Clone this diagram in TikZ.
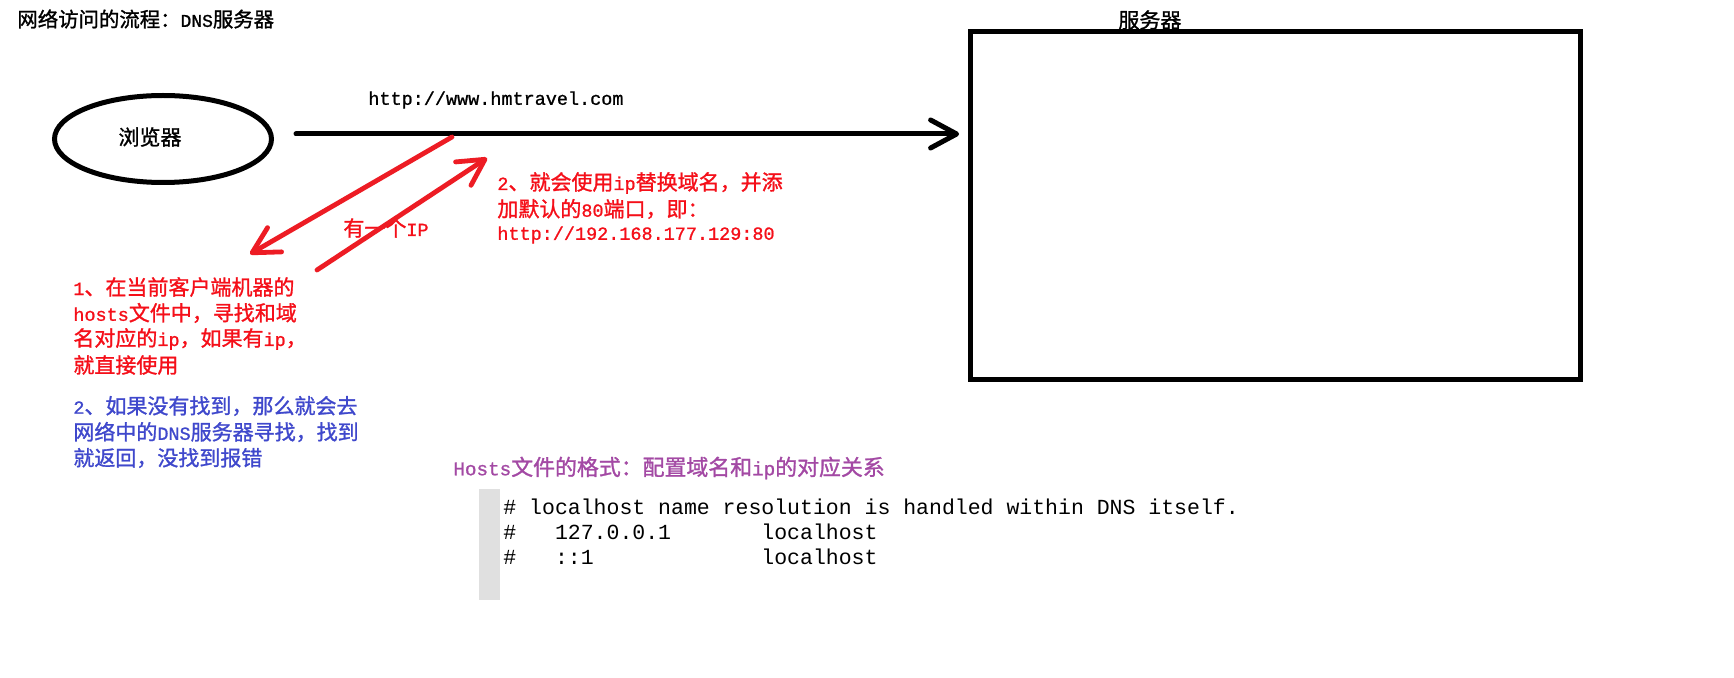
\documentclass[tikz,border=0pt]{standalone}
\usepackage{fontspec}
\setmainfont[FakeBold=1.2]{Noto Sans CJK SC}
\newfontfamily\latf[Scale=0.88,FakeBold=1]{Liberation Mono}
\newfontfamily\codef{Liberation Mono}
\newcommand\mylat[1]{{\latf #1}}
\newcommand\cgap[1]{\hspace*{#1\fontcharwd\font`0}}
\usetikzlibrary{arrows.meta,shapes.geometric}
\definecolor{tred}{RGB}{245,15,25}
\definecolor{ared}{RGB}{237,28,36}
\definecolor{tblue}{RGB}{63,72,204}
\definecolor{tpurp}{RGB}{163,73,164}
\definecolor{bargray}{RGB}{224,224,224}
\begin{document}
\begin{tikzpicture}[x=0.5pt,y=-0.5pt,
  txt/.style={inner sep=0pt, anchor=west, font=\fontsize{10.5pt}{13pt}\selectfont},
  codeline/.style={inner sep=0pt, anchor=west, font=\codef\fontsize{10.75pt}{12.5pt}\selectfont},
  barb/.style={-{Straight Barb[length=13pt,width=14pt,round]}, line cap=round},
  redarrow/.style={barb, draw=ared, line width=2.4pt},
  blackarrow/.style={barb, draw=black, line width=2.5pt},
  redtxt/.style={txt, text=tred},
  bluetxt/.style={txt, text=tblue},
]
\useasboundingbox (0,0) rectangle (1734,678);
\fill[white] (0,0) rectangle (1734,678);

% title and server label
\node[txt, font=\fontsize{10.2pt}{13pt}\selectfont] (title) at (17,19) {网络访问的流程：\mylat{DNS}服务器};
\node[txt] (serverlbl) at (1118,20) {服务器};

% server box
\node[draw, line width=2.5pt, minimum width=305pt, minimum height=174pt, inner sep=0pt] (server) at (1275,206) {};

% browser
\node[ellipse, draw, line width=2.5pt, minimum width=108.5pt, minimum height=43.5pt, inner sep=0pt] (browser) at (163,139) {};
\node[txt, anchor=center] (browserlbl) at (150,137) {浏览器};

% request arrow
\node[txt] (url) at (368,100) {\mylat{http://www.hmtravel.com}};
\coordinate (hstart) at (296,134);
\draw[blackarrow, shorten >=4.2pt] (hstart) -- (hstart -| server.west);

% red texts
\node[redtxt] (hasip) at (343,228) {有一个\mylat{IP}};
\node[redtxt] (s2a) at (497,183) {\mylat{2}、就会使用\mylat{ip}替换域名，并添};
\node[redtxt] (s2b) at (497,209) {加默认的\mylat{80}端口，即：};
\node[redtxt] (s2c) at (497,235) {\mylat{http://192.168.177.129:80}};

\node[redtxt] (s1a) at (73,287) {\mylat{1}、在当前客户端机器的};
\node[redtxt] (s1b) at (73,313) {\mylat{hosts}文件中，寻找和域};
\node[redtxt] (s1c) at (73,339) {名对应的\mylat{ip}，如果有\mylat{ip}，};
\node[redtxt] (s1d) at (73,365) {就直接使用};

% blue texts
\node[bluetxt] (b1) at (73,406) {\mylat{2}、如果没有找到，那么就会去};
\node[bluetxt] (b2) at (73,432) {网络中的\mylat{DNS}服务器寻找，找到};
\node[bluetxt] (b3) at (73,458) {就返回，没找到报错};

% red arrows
\coordinate (r1s) at (452,137);
\coordinate (r1e) at (250,254);
\draw[redarrow] (r1s) -- (r1e);
\coordinate (r2s) at (317,270);
\coordinate (r2e) at (487,158);
\draw[redarrow] (r2s) -- (r2e);

% hosts file format
\node[txt, text=tpurp, font=\fontsize{10.95pt}{13pt}\selectfont] (hostsfmt) at (453,468) {\mylat{Hosts}文件的格式：配置域名和\mylat{ip}的对应关系};
\fill[bargray] (479,489) rectangle (500,600);
\node[codeline] (c1) at (503,507) {\#\cgap{1}localhost\cgap{1}name\cgap{1}resolution\cgap{1}is\cgap{1}handled\cgap{1}within\cgap{1}DNS\cgap{1}itself.};
\node[codeline] (c2) at (503,532) {\#\cgap{3}127.0.0.1\cgap{7}localhost};
\node[codeline] (c3) at (503,557) {\#\cgap{3}::1\cgap{13}localhost};
\end{tikzpicture}
\end{document}
